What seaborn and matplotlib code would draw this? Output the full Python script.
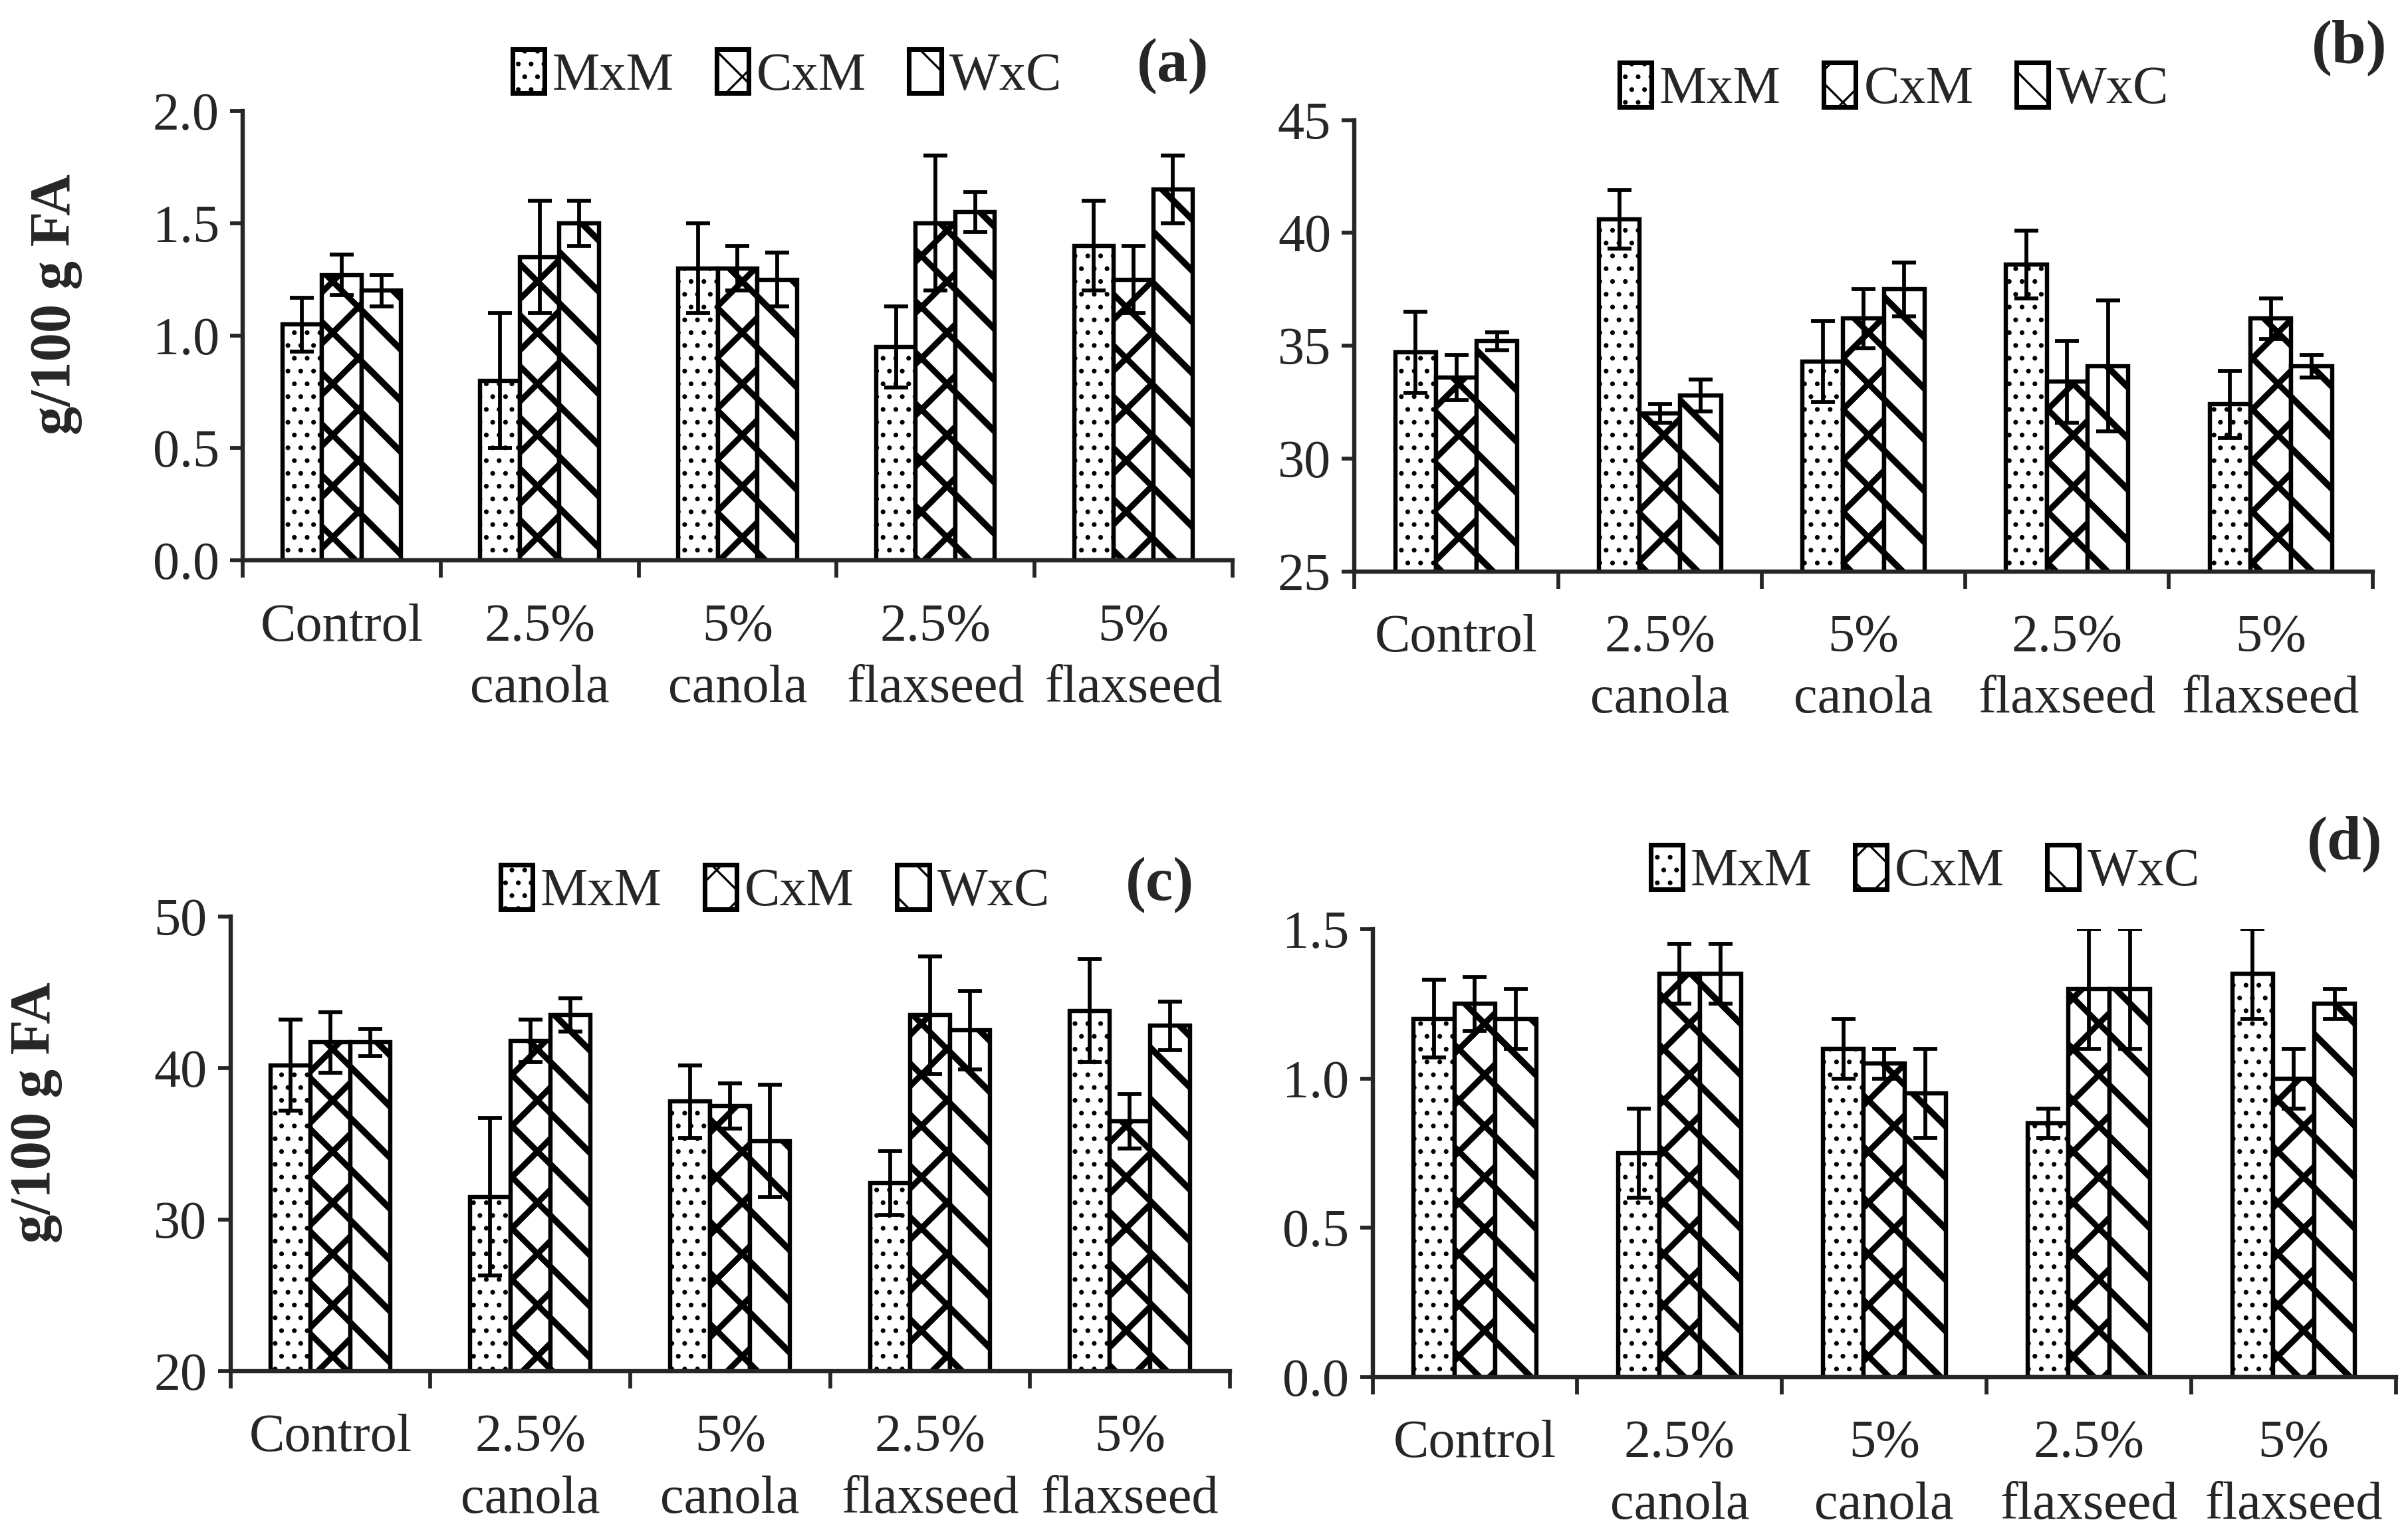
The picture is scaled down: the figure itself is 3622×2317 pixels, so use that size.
import numpy as np
import pandas as pd
import matplotlib
matplotlib.use("Agg")
import matplotlib.pyplot as plt
from matplotlib.patches import Patch
from matplotlib.ticker import FormatStrFormatter
import seaborn as sns

diets = ['Control', '2.5%\ncanola', '5%\ncanola', '2.5%\nflaxseed', '5%\nflaxseed']
crosses = ['MxM', 'CxM', 'WxC']

# (a)
a_mxm = [1.05, 0.80, 1.30, 0.95, 1.40]
a_cxm = [1.27, 1.35, 1.30, 1.50, 1.25]
a_wxc = [1.20, 1.50, 1.25, 1.55, 1.65]
a_mxm_err = [0.12, 0.30, 0.20, 0.18, 0.20]
a_cxm_err = [0.09, 0.25, 0.10, 0.30, 0.15]
a_wxc_err = [0.07, 0.10, 0.12, 0.09, 0.15]

# (b)
b_mxm = [34.7, 40.6, 34.3, 38.6, 32.4]
b_cxm = [33.6, 32.0, 36.2, 33.4, 36.2]
b_wxc = [35.2, 32.8, 37.5, 34.1, 34.1]
b_mxm_err = [1.8, 1.3, 1.8, 1.5, 1.5]
b_cxm_err = [1.0, 0.4, 1.3, 1.8, 0.9]
b_wxc_err = [0.4, 0.7, 1.2, 2.9, 0.5]

# (c)
c_mxm = [40.2, 31.5, 37.8, 32.4, 43.8]
c_cxm = [41.7, 41.8, 37.5, 43.5, 36.5]
c_wxc = [41.7, 43.5, 35.2, 42.5, 42.8]
c_mxm_err = [3.0, 5.2, 2.4, 2.1, 3.4]
c_cxm_err = [2.0, 1.4, 1.5, 3.9, 1.8]
c_wxc_err = [0.9, 1.1, 3.7, 2.6, 1.6]

# (d)
d_mxm = [1.20, 0.75, 1.10, 0.85, 1.35]
d_cxm = [1.25, 1.35, 1.05, 1.30, 1.00]
d_wxc = [1.20, 1.35, 0.95, 1.30, 1.25]
d_mxm_err = [0.13, 0.15, 0.10, 0.05, 0.15]
d_cxm_err = [0.09, 0.10, 0.05, 0.20, 0.10]
d_wxc_err = [0.10, 0.10, 0.15, 0.20, 0.05]

hatches = {'MxM': '..', 'CxM': 'x', 'WxC': '\\'}
hatch_lw = {'MxM': 1.0, 'CxM': 2.8, 'WxC': 3.0}

sns.set_style('ticks')
plt.rcParams['font.family'] = ['Liberation Serif', 'DejaVu Serif']
plt.rcParams['axes.linewidth'] = 2.0
plt.rcParams['hatch.color'] = 'black'

FS = 25


def set_hlw(p, lw):
    try:
        p.set_hatch_linewidth(lw)
    except AttributeError:
        pass


def draw_panel(ax, series, errs, ylim, yticks, fmt, tag, tag_xy, leg_xy, ylab_x):
    df = pd.DataFrame({
        'diet': diets * 3,
        'cross': np.repeat(crosses, len(diets)),
        'value': series[0] + series[1] + series[2],
    })
    sns.barplot(data=df, x='diet', y='value', hue='cross', order=diets,
                hue_order=crosses, palette=['white'] * 3, edgecolor='black',
                linewidth=2.0, errorbar=None, width=0.6, legend=False, ax=ax)
    for cont, cr, vals, err in zip(ax.containers, crosses, series, errs):
        xs = []
        for bar in cont:
            bar.set_hatch(hatches[cr])
            set_hlw(bar, hatch_lw[cr])
            xs.append(bar.get_x() + bar.get_width() / 2)
        ax.errorbar(xs, vals, yerr=err, fmt='none', ecolor='black',
                    elinewidth=1.8, capsize=5.5, capthick=1.8, zorder=5)

    ax.set_ylim(*ylim)
    ax.set_yticks(yticks)
    ax.yaxis.set_major_formatter(FormatStrFormatter(fmt))
    ax.set_xlim(-0.5, len(diets) - 0.5)
    ax.set_xticks(np.arange(-0.5, len(diets), 1.0))
    ax.set_xticklabels([])
    ax.set_xticks(np.arange(len(diets)), minor=True)
    ax.set_xticklabels(diets, minor=True, fontsize=FS, linespacing=1.35)
    ax.tick_params(axis='x', which='major', length=8, width=1.8, direction='out')
    ax.tick_params(axis='x', which='minor', length=0, pad=20)
    ax.tick_params(axis='y', length=6, width=1.8, direction='out', labelsize=FS, pad=5)
    ax.set_xlabel('')
    if ylab_x is not None:
        ax.set_ylabel('g/100 g FA', fontsize=27, fontweight='bold')
        ax.yaxis.set_label_coords(ylab_x, 0.57)
    else:
        ax.set_ylabel('')
    sns.despine(ax=ax)

    handles = []
    for cr in crosses:
        p = Patch(facecolor='white', edgecolor='black', hatch=hatches[cr],
                  linewidth=2.2, label=cr)
        set_hlw(p, hatch_lw[cr] * 0.5)
        handles.append(p)
    ax.legend(handles=handles, loc='center', bbox_to_anchor=leg_xy, ncol=3,
              frameon=False, fontsize=FS, handlelength=0.6, handleheight=0.9,
              handletextpad=0.15, columnspacing=0.8, borderaxespad=0)
    ax.text(tag_xy[0], tag_xy[1], tag, transform=ax.transAxes, fontsize=29,
            fontweight='bold', ha='center', va='center')


fig = plt.figure(figsize=(3622 / 231, 2317 / 231), dpi=231)
ax_a = fig.add_axes([0.1008, 0.636, 0.411, 0.292])
ax_b = fig.add_axes([0.5625, 0.629, 0.4228, 0.293])
ax_c = fig.add_axes([0.0957, 0.1097, 0.415, 0.295])
ax_d = fig.add_axes([0.570, 0.1057, 0.425, 0.291])

draw_panel(ax_a, [a_mxm, a_cxm, a_wxc], [a_mxm_err, a_cxm_err, a_wxc_err],
           (0, 2.0), [0, 0.5, 1.0, 1.5, 2.0], '%.1f', '(a)',
           (0.94, 1.10), (0.55, 1.08), -0.162)
draw_panel(ax_b, [b_mxm, b_cxm, b_wxc], [b_mxm_err, b_cxm_err, b_wxc_err],
           (25, 45), [25, 30, 35, 40, 45], '%d', '(b)',
           (0.977, 1.16), (0.53, 1.07), None)
draw_panel(ax_c, [c_mxm, c_cxm, c_wxc], [c_mxm_err, c_cxm_err, c_wxc_err],
           (20, 50), [20, 30, 40, 50], '%d', '(c)',
           (0.93, 1.07), (0.545, 1.057), -0.168)
draw_panel(ax_d, [d_mxm, d_cxm, d_wxc], [d_mxm_err, d_cxm_err, d_wxc_err],
           (0, 1.5), [0, 0.5, 1.0, 1.5], '%.1f', '(d)',
           (0.95, 1.19), (0.54, 1.13), None)

fig.savefig('out.png', dpi=231, facecolor='white')
